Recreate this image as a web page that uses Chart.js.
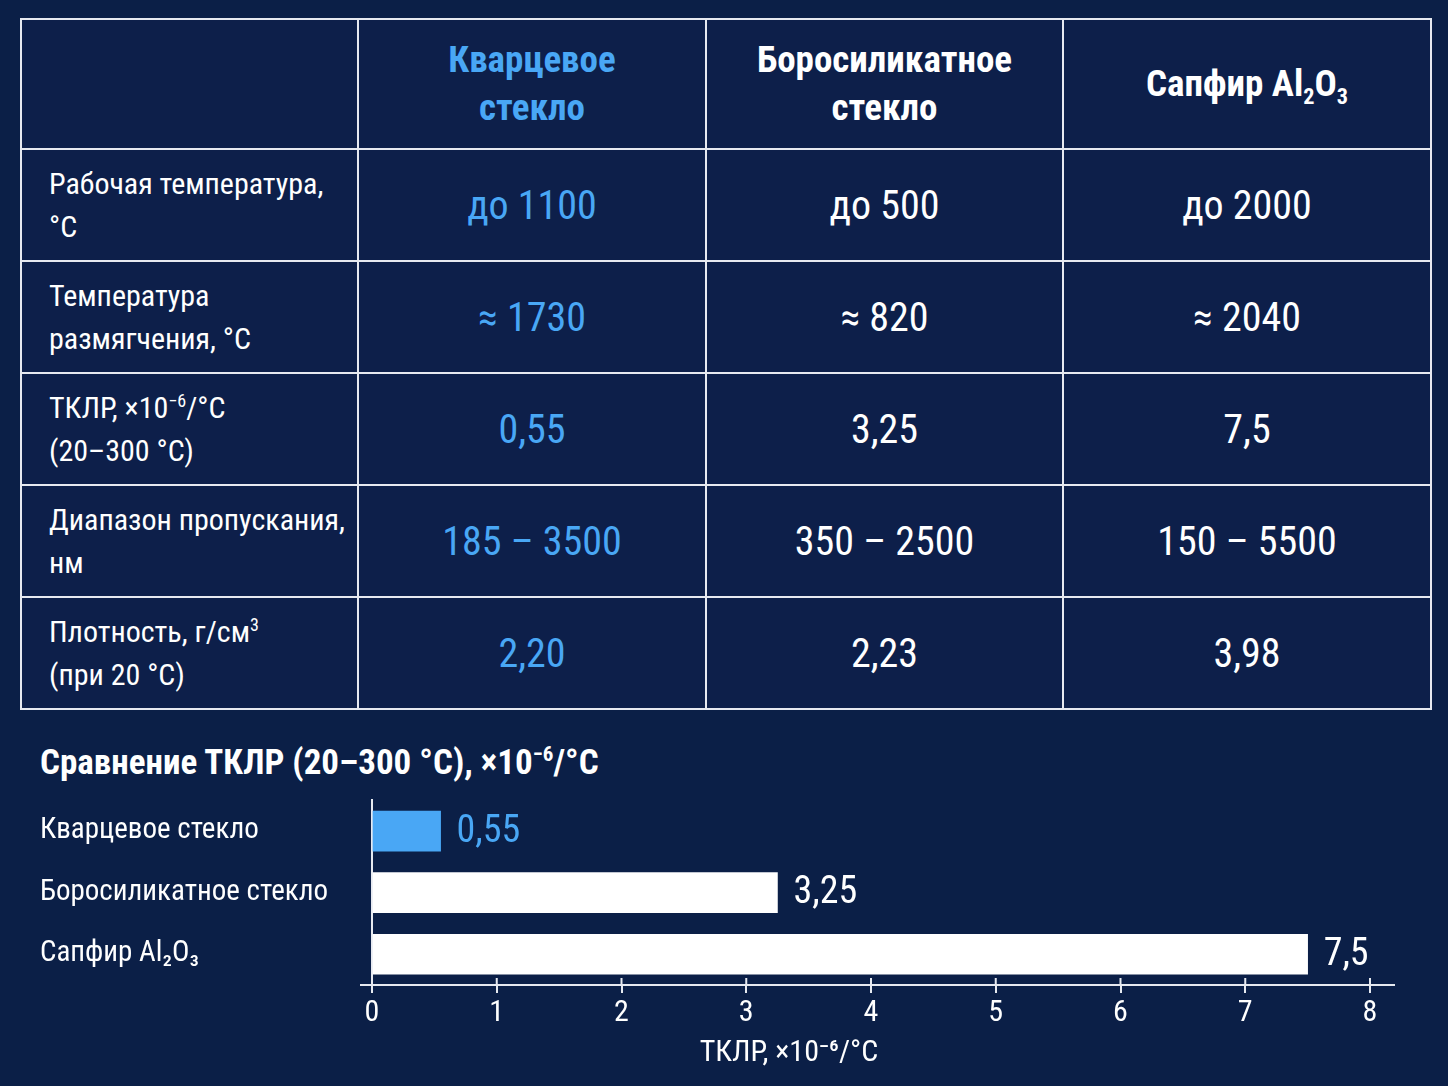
<!DOCTYPE html>
<html lang="ru">
<head>
<meta charset="utf-8">
<script src="https://cdn.jsdelivr.net/npm/chart.js@4.4.1/dist/chart.umd.min.js"></script>
<style>
  html, body { margin: 0; padding: 0; }
  body {
    width: 1448px; height: 1086px; overflow: hidden;
    background: #0b1f47;
    font-family: "Roboto Condensed", "Roboto", sans-serif;
    color: #fff;
    position: relative;
  }
  table.props {
    position: absolute; left: 20px; top: 18px;
    width: 1410px;
    border-collapse: collapse;
    table-layout: fixed;
  }
  table.props td, table.props th {
    border: 2px solid #e6e9f0;
    background: #0d1f4a;
    text-align: center;
    vertical-align: middle;
    padding: 0;
  }
  table.props th { font-size: 37px; font-weight: bold; line-height: 48px; height: 128px; }
  table.props td { font-size: 40px; height: 110px; }
  table.props td.lbl { text-align: left; font-size: 30px; line-height: 43px; padding-left: 27px; }
  .hl { color: #49a7f5; }
  h2 {
    position: absolute; left: 40px; top: 742px; margin: 0;
    font-size: 35px; font-weight: bold; white-space: nowrap; line-height: 42px;
  }
  sup, sub { font-size: 60%; line-height: 0; }
  #wrap { position: absolute; left: 0; top: 780px; width: 1448px; height: 306px; }
</style>
</head>
<body>
<table class="props" id="props"></table>
<h2>Сравнение ТКЛР (20–300 °C), ×10<sup>−6</sup>/°C</h2>
<div id="wrap"><canvas id="chart"></canvas></div>
<script>
// table data
const materials = ["Кварцевое<br>стекло", "Боросиликатное<br>стекло", "Сапфир Al<sub>2</sub>O<sub>3</sub>"];
const propLabels = [
  "Рабочая температура,<br>°C",
  "Температура<br>размягчения, °C",
  "ТКЛР, ×10<sup>−6</sup>/°C<br>(20–300 °C)",
  "Диапазон пропускания,<br>нм",
  "Плотность, г/см<sup>3</sup><br>(при 20 °C)"
];
const quartzVals = ["до 1100", "≈ 1730", "0,55", "185 – 3500", "2,20"];
const boroVals   = ["до 500", "≈ 820", "3,25", "350 – 2500", "2,23"];
const sapphVals  = ["до 2000", "≈ 2040", "7,5", "150 – 5500", "3,98"];

// chart data
const barLabels = ["Кварцевое стекло", "Боросиликатное стекло", "Сапфир Al₂O₃"];
const tclrValues = [0.55, 3.25, 7.5];
const xTicks = [0, 1, 2, 3, 4, 5, 6, 7, 8];
const xTitle = "ТКЛР, ×10⁻⁶/°C";

const BLUE = "#49a7f5";
const LINE = "#e6e9f0";
const FONT = '"Roboto Condensed", "Roboto", sans-serif';

// build table
const tbl = document.getElementById("props");
let html = '<colgroup><col style="width:337px"><col style="width:348px"><col style="width:357px"><col style="width:368px"></colgroup>';
html += "<tr><th></th>" + materials.map((m, i) =>
  `<th class="${i === 0 ? "hl" : ""}">${m}</th>`).join("") + "</tr>";
propLabels.forEach((lbl, r) => {
  html += `<tr><td class="lbl">${lbl}</td><td class="hl">${quartzVals[r]}</td><td>${boroVals[r]}</td><td>${sapphVals[r]}</td></tr>`;
});
tbl.innerHTML = html;

// value labels at the bar ends
const valueLabels = {
  id: "valueLabels",
  afterDatasetsDraw(chart) {
    const { ctx } = chart;
    const meta = chart.getDatasetMeta(0);
    ctx.save();
    ctx.font = `38px ${FONT}`;
    ctx.textBaseline = "middle";
    meta.data.forEach((bar, i) => {
      ctx.fillStyle = i === 0 ? BLUE : "#ffffff";
      ctx.fillText(String(tclrValues[i]).replace(".", ","), bar.x + 16, bar.y + 1);
    });
    ctx.restore();
  }
};

// axis line runs a little past both ends, tick marks cross it, title sits left of centre
const axisExtras = {
  id: "axisExtras",
  afterDraw(chart) {
    const { ctx } = chart;
    const x = chart.scales.x;
    const y0 = x.top;
    ctx.save();
    ctx.strokeStyle = LINE;
    ctx.lineWidth = 2;
    ctx.beginPath();
    ctx.moveTo(x.left - 12, y0);
    ctx.lineTo(x.right + 25, y0);
    x.ticks.forEach(t => {
      const px = x.getPixelForValue(t.value);
      ctx.moveTo(px, y0 - 7);
      ctx.lineTo(px, y0);
    });
    ctx.stroke();
    ctx.fillStyle = "#ffffff";
    ctx.font = `30px ${FONT}`;
    ctx.textAlign = "center";
    ctx.textBaseline = "middle";
    ctx.fillText(xTitle, (x.left + x.right) / 2 - 82, y0 + 68);
    ctx.restore();
  }
};

const ctx = document.getElementById("chart").getContext("2d");
new Chart(ctx, {
  type: "bar",
  data: {
    labels: barLabels,
    datasets: [{
      data: tclrValues,
      backgroundColor: tclrValues.map((v, i) => i === 0 ? BLUE : "#ffffff"),
      borderWidth: 0,
      barThickness: 40,
    }],
  },
  options: {
    indexAxis: "y",
    responsive: true,
    maintainAspectRatio: false,
    animation: false,
    layout: { padding: { left: 40, right: 78, top: 4, bottom: 7 } },
    plugins: { legend: { display: false }, tooltip: { enabled: false } },
    scales: {
      x: {
        min: 0, max: 8,
        afterBuildTicks: (s) => { s.ticks = xTicks.map(v => ({ value: v })); },
        grid: { drawOnChartArea: false, drawTicks: true, tickLength: 8, color: LINE, lineWidth: 2 },
        border: { display: true, color: LINE, width: 2 },
        ticks: { color: "#ffffff", font: { family: FONT, size: 30 }, padding: 2 },
        title: {
          display: true, text: xTitle, color: "rgba(0,0,0,0)",
          font: { family: FONT, size: 30 }, padding: { top: 2, bottom: 8 },
        },
      },
      y: {
        afterFit: (s) => { s.width = 332; },
        grid: { display: false },
        border: { display: true, color: LINE, width: 2 },
        ticks: { color: "#ffffff", crossAlign: "far", font: { family: FONT, size: 29 } },
      },
    },
  },
  plugins: [valueLabels, axisExtras],
});
</script>
</body>
</html>
